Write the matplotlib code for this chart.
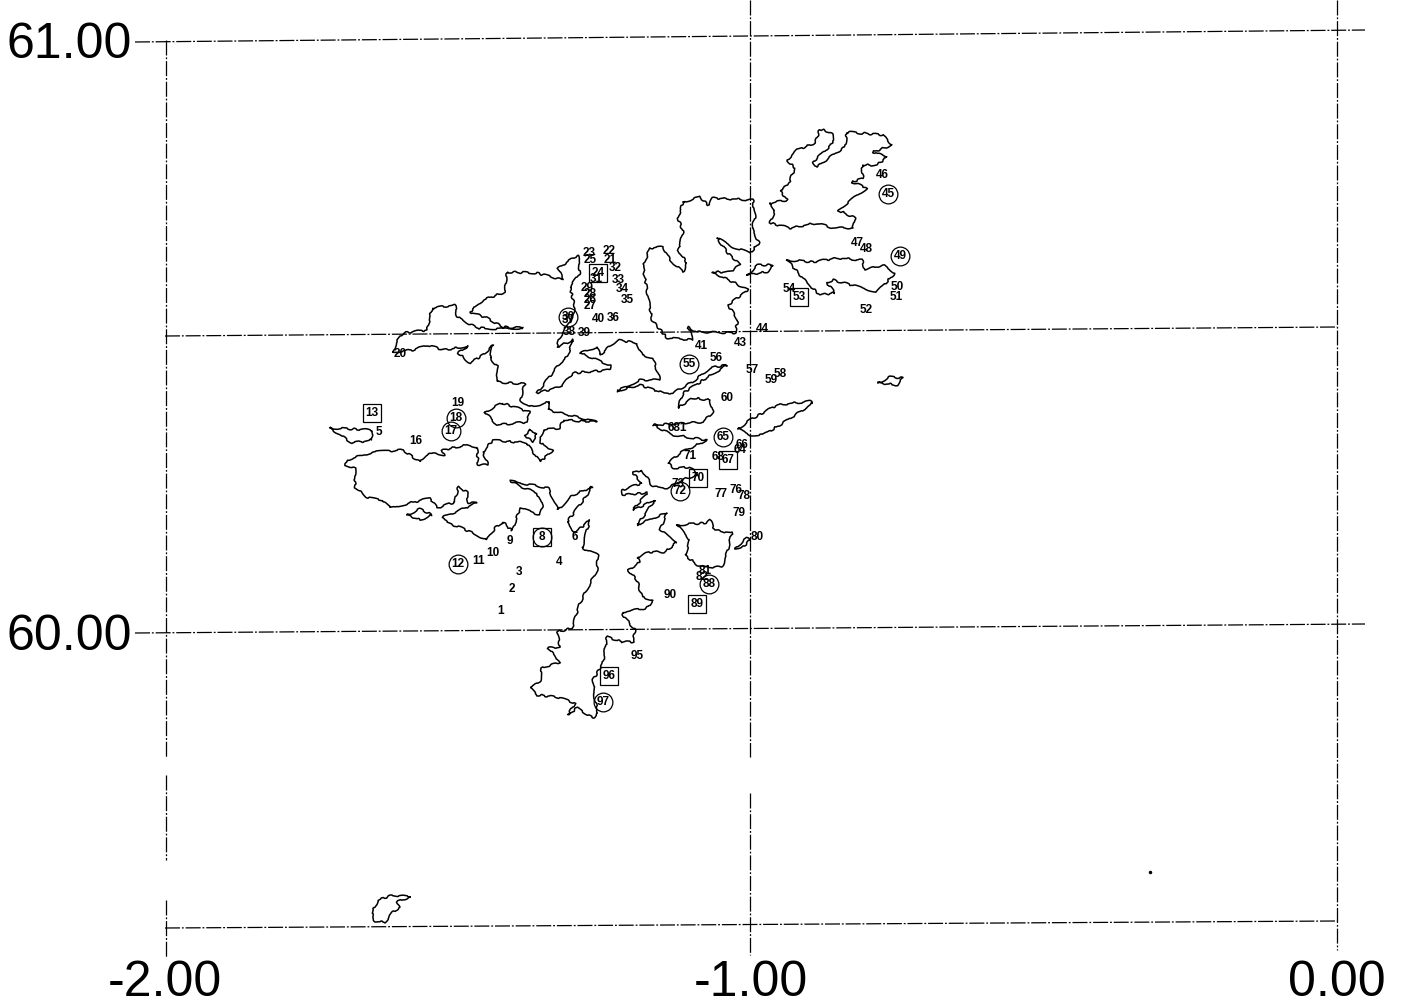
import matplotlib
matplotlib.use("Agg")
import matplotlib.pyplot as plt
import numpy as np

plt.rcParams['font.family'] = ['Liberation Sans', 'DejaVu Sans']

mainland = [(393,352),(396,343),(403,333),(427,330),(432,308),(455,305),(457,317),(477,328),(503,329),(523,328),
    (503,327),(487,318),(470,312),(483,300),(505,292),(507,272),(537,273),(563,280),(558,268),(578,255),
    (580,273),(570,287),(575,308),(570,322),(560,337),(557,347),(573,340),(567,357),(560,363),(547,380),
    (537,393),(560,387),(573,373),(610,370),(610,365),(597,360),(580,353),(597,347),(600,355),(617,340),
    (637,343),(642,355),(653,358),(660,380),(640,380),(617,391),(640,385),(663,393),(673,393),(695,380),
    (710,368),(727,365),(683,393),(678,408),(693,398),(710,400),(713,412),(703,422),(653,425),(673,435),
    (707,440),(682,452),(668,463),(673,468),(690,467),(698,475),(687,478),(667,488),(653,487),(642,470),
    (633,473),(642,483),(622,490),(623,495),(647,493),(633,510),(655,500),(637,525),(653,518),(667,513),
    (660,530),(677,542),(665,552),(650,552),(637,557),(640,562),(628,570),(637,580),(642,597),(653,600),
    (647,608),(623,612),(623,615),(635,630),(633,642),(623,642),(607,637),(603,663),(593,680),(595,700),
    (598,713),(593,718),(577,708),(568,715),(575,703),(557,697),(537,695),(530,688),(540,682),(542,668),
    (560,662),(548,648),(560,647),(557,632),(572,628),(580,603),(597,570),(598,555),(582,548),(590,520),
    (575,533),(567,522),(585,498),(592,487),(573,495),(558,510),(548,488),(510,481),(522,487),(537,493),
    (543,507),(540,515),(520,508),(512,531),(503,522),(495,528),(487,540),(462,528),(447,523),(443,517),
    (477,503),(468,503),(467,492),(458,487),(455,502),(437,508),(430,498),(390,508),(383,500),(368,498),
    (355,487),(355,468),(345,465),(347,460),(373,452),(403,450),(420,462),(428,453),(445,455),(442,450),
    (467,445),(477,447),(478,465),(488,465),(483,452),(493,440),(527,443),(540,462),(553,450),(540,443),
    (543,430),(560,428),(563,420),(597,422),(548,410),(550,402),(530,407),(520,400),(525,384),(497,382),
    (498,367),(490,358),(493,345),(483,355),(470,363),(458,353),(468,346),(443,350),(428,345),(413,350),(393,352)]
unst = [(770,203),(775,210),(770,223),(790,228),(817,223),(833,228),(853,228),(855,218),(838,210),(867,188),
    (852,182),(863,178),(862,165),(877,165),(887,157),(873,152),(892,145),(883,135),(847,132),(845,147),
    (833,155),(817,167),(813,162),(833,143),(832,133),(820,129),(815,143),(797,150),(787,160),(795,168),
    (788,185),(780,190),(787,200),(770,203)]
fetlar = [(787,260),(813,262),(837,258),(862,260),(865,270),(883,265),(895,273),(877,292),(833,280),(827,283),
    (835,293),(820,295),(807,283),(787,260)]
yell = [(683,202),(700,197),(708,205),(713,198),(753,200),(755,217),(752,228),(759,243),(750,253),(733,247),
    (717,238),(727,252),(740,265),(730,272),(712,272),(735,283),(748,290),(728,305),(738,320),(735,333),
    (697,332),(688,327),(693,340),(667,338),(652,320),(643,267),(650,248),(663,247),(670,260),(683,272),
    (687,263),(678,250),(683,232),(678,218),(683,202)]
whalsay = [(738,429),(750,420),(777,405),(812,401),(813,403),(783,423),(763,435),(750,435),(738,429)]
central = [(677,525),(705,523),(710,520),(715,530),(732,533),(727,553),(722,567),(700,567),(685,555),(690,540),(677,525)]
isle_a = [(747,275),(758,265),(773,265),(767,272),(747,275)]
isle_b = [(878,383),(890,377),(903,378),(897,385),(878,383)]
isle_c = [(330,428),(372,430),(372,440),(352,443),(330,428)]
isle_d = [(485,412),(502,403),(530,412),(527,422),(497,425),(485,412)]
isle_e = [(530,430),(537,433),(532,442),(525,435),(530,430)]
isle_f = [(407,515),(420,509),(432,515),(420,520),(407,515)]
isle_g = [(735,548),(747,538),(750,540),(742,548),(735,548)]
fair_isle = [(410,897),(393,895),(378,900),(372,913),(375,922),(385,922),(393,912),(400,907),(397,902),(410,897)]
coasts = [mainland, unst, fetlar, yell, whalsay, central, isle_a, isle_b, isle_c, isle_d, isle_e, isle_f, isle_g, fair_isle]

# scan is slightly skewed so grid lines are not quite level
grid_lines = [[(135,42),(1365,30)], [(165,336),(1337,327)], [(135,633),(1365,624)], [(165,928),(1337,921)],
    [(166,40),(166,757)], [(166,775),(166,860)], [(166,900),(166,958)],
    [(750,0),(750,757)], [(750,793),(750,955)], [(1337,0),(1337,950)]]

station_names = ['1','2','3','4','5','6','8','9','10','11','12','16','17','18','19','20','13','22','21','23','25','24','31',
    '32','33','34','35','29','28','26','27','30','37','38','39','40','36','41','43','44','46','45','47','48','49',
    '50','51','52','53','54','55','56','57','58','59','60','681','65','66','64','68','67','70','71','72','73',
    '76','77','78','79','80','81','82','88','89','90','95','96','97']
station_x = [501,512,519,559,379,575,542,510,493,479,458,416,451,456,458,400,372,609,610,589,590,598,596,
    615,618,622,627,587,590,590,590,568,568,569,584,598,613,701,740,762,882,888,857,866,900,
    897,896,866,799,789,689,716,752,780,771,727,677,723,742,740,718,728,698,690,680,678,
    736,721,744,739,757,705,702,709,697,670,637,609,603]
station_y = [611,589,572,562,432,537,537,541,553,561,564,441,431,418,403,354,413,251,260,253,260,273,279,
    268,280,289,300,288,294,300,306,317,320,332,333,319,318,346,343,329,175,194,243,249,256,
    287,297,310,297,289,364,358,370,374,380,398,428,437,445,450,457,460,478,456,491,484,
    490,494,496,513,537,571,577,584,604,595,656,676,702]
circled = ['8','12','17','18','30','45','49','55','65','72','88','97']
boxed = ['8','13','24','53','67','70','89','96']
speck_x, speck_y = [1150], [872]


def lon(px):
    return -2 + (np.asarray(px, dtype=float) - 165) / 586


def lat(py):
    return 60 + (632 - np.asarray(py, dtype=float)) / 592


fig = plt.figure(figsize=(14.04, 10.08), dpi=100)
ax = fig.add_axes([165/1404, 1 - 928/1008, 1172/1404, 888/1008])
ax.set_xlim(-2, 0)
ax.set_ylim(59.5, 61)

for seg in grid_lines:
    pts = np.array(seg)
    ax.plot(lon(pts[:, 0]), lat(pts[:, 1]), color='black', lw=0.9, ls=(0, (12, 1.5, 1.5, 1.5)), clip_on=False)

# sketch params roughen the outline so it looks more like the scanned coast
for c in coasts:
    pts = np.array(c)
    line, = ax.plot(lon(pts[:, 0]), lat(pts[:, 1]), color='black', lw=1.1, clip_on=False)
    line.set_sketch_params(scale=1.0, length=22, randomness=6)

for name, sx, sy in zip(station_names, station_x, station_y):
    ax.text(lon(sx), lat(sy), name, fontsize=8.5, fontweight='bold', ha='center', va='center')
    if name in circled:
        ax.plot(lon(sx), lat(sy), 'o', mfc='none', mec='black', mew=0.9, ms=13.5)
    if name in boxed:
        ax.plot(lon(sx), lat(sy), 's', mfc='none', mec='black', mew=0.9, ms=12.5)

ax.plot(lon(speck_x), lat(speck_y), 'o', color='black', ms=1.5)

for s in ax.spines.values():
    s.set_visible(False)
ax.set_xticks([-2, -1, 0], ['-2.00', '-1.00', '0.00'], fontsize=36)
ax.set_yticks([60, 61], ['60.00', '61.00'], fontsize=36)
ax.tick_params(axis='x', length=0, pad=23)
ax.tick_params(axis='y', length=0, pad=24)

fig.savefig('out.png', dpi=100)
